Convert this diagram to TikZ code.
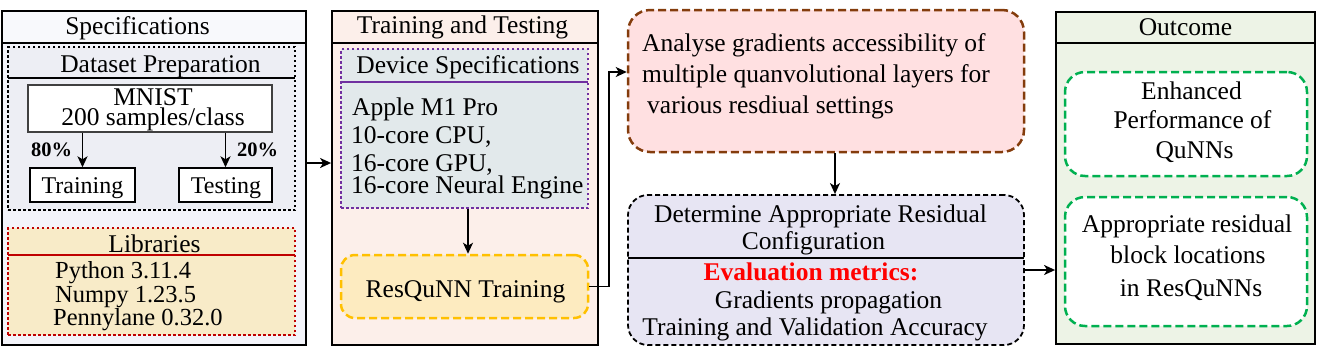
\documentclass[tikz,border=0pt]{standalone}
\usepackage{fontspec}
\setmainfont{Liberation Serif}
\usetikzlibrary{arrows.meta,calc}
\definecolor{specbody}{HTML}{F3F4FA}
\definecolor{spechead}{HTML}{F8F9FC}
\definecolor{dsfill}{HTML}{EDEEF4}
\definecolor{libfill}{HTML}{F8EBC8}
\definecolor{libred}{HTML}{C00000}
\definecolor{ttfill}{HTML}{FCEFEA}
\definecolor{devfill}{HTML}{E2E9EB}
\definecolor{devpurple}{HTML}{7030A0}
\definecolor{resfill}{HTML}{FDEBC0}
\definecolor{resorange}{HTML}{FFC000}
\definecolor{anafill}{HTML}{FFE0E1}
\definecolor{anabrown}{HTML}{843C0C}
\definecolor{detfill}{HTML}{E7E5F3}
\definecolor{outfill}{HTML}{EDF3E6}
\definecolor{okgreen}{HTML}{00B050}
\definecolor{evalred}{HTML}{FF0000}
\begin{document}
\begin{tikzpicture}[x=1pt,y=-1pt,
  font=\fontsize{25.5}{31}\selectfont,
  panel/.style={draw=black, line width=1.8pt, inner sep=0pt},
  dotbox/.style={line width=2.5pt, dash pattern=on 2.5pt off 2.5pt, inner sep=0pt},
  dashbox/.style={line width=2.5pt, dash pattern=on 8pt off 4pt, inner sep=0pt},
  plainbox/.style={draw=black, line width=1.4pt, fill=white, inner sep=0pt},
  t/.style={inner sep=0pt, anchor=base},
  tl/.style={inner sep=0pt, anchor=base west},
  arr/.style={line width=1.6pt, -{Stealth[length=11pt,width=10pt,inset=3pt]}},
]
\useasboundingbox (0,0) rectangle (1318,357);

% ---------- Specifications ----------
\node[panel, fill=specbody, minimum width=304pt, minimum height=334pt] (spec) at (154,178) {};
\draw[line width=1.8pt, fill=spechead] (2,11) rectangle (306,43);
\node[t] (specT) at (137.5,34) {Specifications};

\node[dotbox, draw=black, fill=dsfill, minimum width=287pt, minimum height=163pt] (ds) at (151.5,128.5) {};
\draw[line width=1.6pt] (8,78) -- (295,78);
\node[t] (dsT) at (160.5,72) {Dataset Preparation};

\node[plainbox, draw=black!75, minimum width=244pt, minimum height=47pt] (mnist) at (150,108.5) {};
\node[t] (mnT) at (153,125) {\vbox{\baselineskip=20pt\lineskiplimit=-100pt\lineskip=0pt
  \halign{\hfil#\hfil\cr MNIST\cr 200 samples/class\cr}}};

\node[plainbox, minimum width=105pt, minimum height=34pt] (train) at (82.5,185) {};
\node[plainbox, minimum width=93pt, minimum height=34pt] (test) at (225.5,185) {};
\node[t, font=\fontsize{24}{28}\selectfont] (trainT) at (82.5,193) {Training};
\node[t, font=\fontsize{24}{28}\selectfont] (testT) at (226,193) {Testing};
\node[t, font=\fontsize{20.5}{24}\selectfont\bfseries] (p80) at (51.5,156) {80\%};
\node[t, font=\fontsize{20.5}{24}\selectfont\bfseries] (p20) at (257.5,156) {20\%};

\node[dotbox, draw=libred, fill=libfill, minimum width=287pt, minimum height=107pt] (lib) at (151.5,281.5) {};
\draw[line width=1.6pt, libred] (8,255) -- (295,255);
\node[t] (libT) at (154.5,252) {Libraries};
\node[tl, font=\fontsize{24.5}{28}\selectfont] (py) at (55,278) {Python 3.11.4};
\node[tl, font=\fontsize{24.5}{28}\selectfont] (np) at (55,302) {Numpy 1.23.5};
\node[tl, font=\fontsize{24.5}{28}\selectfont] (pl) at (53,325) {Pennylane 0.32.0};

% ---------- Training and Testing ----------
\node[panel, fill=ttfill, minimum width=266pt, minimum height=334pt] (tt) at (465,178) {};
\draw[line width=1.8pt] (332,43) -- (598,43);
\node[t] (ttT) at (462.5,33) {Training and Testing};

\node[dotbox, draw=devpurple, fill=devfill, minimum width=247pt, minimum height=159pt] (dev) at (464.5,128.5) {};
\draw[line width=1.6pt, devpurple] (341,82) -- (588,82);
\node[t] (devT) at (468,73) {Device Specifications};
\node[tl] (d1) at (352,115) {Apple M1 Pro};
\node[tl] (d2) at (351,143) {10-core CPU,};
\node[tl] (d34) at (351,193) {\vbox{\baselineskip=22pt\lineskiplimit=-100pt\lineskip=0pt
  \hbox{16-core GPU,}\hbox{16-core Neural Engine}}};

\node[dashbox, draw=resorange, fill=resfill, rounded corners=14pt, minimum width=247pt, minimum height=63pt] (res) at (464.5,286.5) {};
\node[t] (resT) at (465.5,297) {ResQuNN Training};

% ---------- Analyse ----------
\node[dashbox, draw=anabrown, fill=anafill, rounded corners=22pt, minimum width=396pt, minimum height=142pt] (ana) at (826,81) {};
\node[tl] (a1) at (642,51) {Analyse gradients accessibility of};
\node[tl] (a2) at (642,82) {multiple quanvolutional layers for};
\node[tl] (a3) at (647,113) {various resdiual settings};

% ---------- Determine ----------
\node[draw=black, line width=1.8pt, dash pattern=on 5pt off 3pt, rounded corners=20pt, fill=detfill, inner sep=0pt, minimum width=396pt, minimum height=150pt] (det) at (826,270) {};
\draw[line width=1.8pt] (628,258) -- (1024,258);
\node[t] (e1) at (820.5,222) {Determine Appropriate Residual};
\node[t] (e2) at (813.5,249) {Configuration};
\node[t, text=evalred, font=\fontsize{25.5}{31}\selectfont\bfseries] (e3) at (811,280) {Evaluation metrics:};
\node[t] (e4) at (828.5,308) {Gradients propagation};
\node[t] (e5) at (815,335) {Training and Validation Accuracy};

% ---------- Outcome ----------
\node[panel, fill=outfill, minimum width=259pt, minimum height=332pt] (out) at (1185.5,178) {};
\draw[line width=1.8pt] (1056,43) -- (1315,43);
\node[t] (outT) at (1185.5,35) {Outcome};

\node[dashbox, draw=okgreen, fill=white, rounded corners=20pt, minimum width=242pt, minimum height=104pt] (enh) at (1186,124) {};
\node[t] (o1) at (1191.5,99) {Enhanced};
\node[t] (o2) at (1192.5,128) {Performance of};
\node[t] (o3) at (1194.5,158) {QuNNs};

\node[dashbox, draw=okgreen, fill=white, rounded corners=20pt, minimum width=242pt, minimum height=129pt] (app) at (1186,261.5) {};
\node[t] (o4) at (1187,232) {Appropriate residual};
\node[t] (o5) at (1188,263) {block locations};
\node[t] (o6) at (1191,296) {in ResQuNNs};

% ---------- Connectors ----------
\draw[arr] (train.north |- mnist.south) -- (train.north);
\draw[arr] (test.north |- mnist.south) -- (test.north);
\draw[arr] ($(spec.east)+(0,-15)$) -- ($(tt.west)+(0,-15)$);
\draw[arr] ($(dev.south)+(3.5,0)$) -- ($(res.north)+(3.5,0)$);
\draw[arr] (res.east) -- ++(20,0) |- ($(ana.west)+(0,-9)$);
\draw[arr] ($(ana.south)+(9,0)$) -- ($(det.north)+(9,0)$);
\draw[arr] (det.east) -- (det.east -| out.west);
\end{tikzpicture}
\end{document}
